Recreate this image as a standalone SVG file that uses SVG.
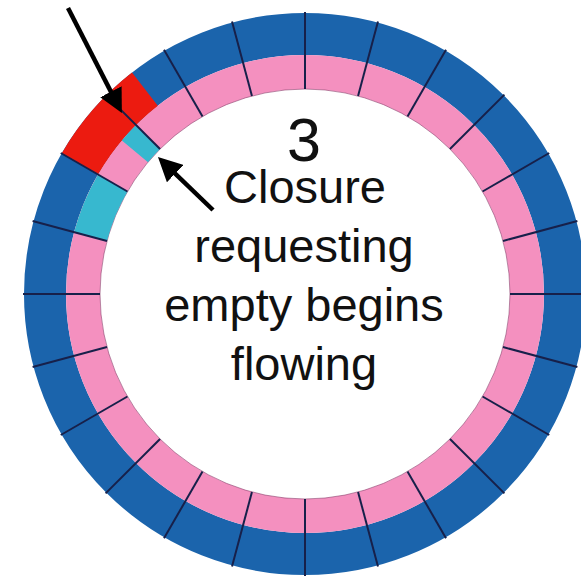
<svg xmlns="http://www.w3.org/2000/svg" width="581" height="578" viewBox="0 0 581 578">
  <defs>
    <style>
      .lbl { font-family: "Liberation Sans", Arial, Helvetica, sans-serif; fill: #111; text-anchor: middle; }
      .tick { stroke: #17204a; stroke-width: 2; }
      .arrow { stroke: #000; stroke-width: 4.5; fill: none; marker-end: url(#head); }
    </style>
    <marker id="head" markerUnits="userSpaceOnUse" viewBox="0 0 24 24" markerWidth="24" markerHeight="24" refX="12" refY="12" orient="auto">
      <path d="M0,0 L24,12 L0,24 Z" fill="#000"/>
    </marker>
    <line id="spoke" class="tick" x1="205" y1="0" x2="282" y2="0"/>
  </defs>

  <rect width="581" height="578" fill="#fff"/>

  <!-- ring: outer blue band and inner pink band -->
  <g id="ring">
    <circle cx="305" cy="294" r="260" fill="none" stroke="#1b64ac" stroke-width="42"/>
    <circle cx="305" cy="294" r="222" fill="none" stroke="#f490bf" stroke-width="34"/>
    <circle cx="305" cy="294" r="205" fill="none" stroke="#8a3f6c" stroke-width="1" opacity="0.6"/>
  </g>

  <!-- highlighted cells -->
  <g id="cell-red">
    <path d="M132.0,72.6 A281,281 0 0 0 61.7,153.5 L98.0,174.5 A239,239 0 0 1 157.8,105.7 Z" fill="#ec1b10"/>
  </g>
  <g id="cell-cyan-small">
    <path d="M136.0,125.0 A239,239 0 0 0 121.9,140.4 L148.0,162.2 A205,205 0 0 1 160.0,149.0 Z" fill="#37b8cf"/>
  </g>
  <g id="cell-cyan">
    <path d="M98.0,174.5 A239,239 0 0 0 74.1,232.1 L107.0,240.9 A205,205 0 0 1 127.5,191.5 Z" fill="#37b8cf"/>
  </g>

  <!-- cell dividers every 15 degrees -->
  <g id="dividers" transform="translate(305 294)">
    <use href="#spoke" transform="rotate(0)"/>
    <use href="#spoke" transform="rotate(15)"/>
    <use href="#spoke" transform="rotate(30)"/>
    <use href="#spoke" transform="rotate(45)"/>
    <use href="#spoke" transform="rotate(60)"/>
    <use href="#spoke" transform="rotate(75)"/>
    <use href="#spoke" transform="rotate(90)"/>
    <use href="#spoke" transform="rotate(105)"/>
    <use href="#spoke" transform="rotate(120)"/>
    <use href="#spoke" transform="rotate(135)"/>
    <use href="#spoke" transform="rotate(150)"/>
    <use href="#spoke" transform="rotate(165)"/>
    <use href="#spoke" transform="rotate(180)"/>
    <use href="#spoke" transform="rotate(195)"/>
    <use href="#spoke" transform="rotate(210)"/>
    <use href="#spoke" transform="rotate(225)"/>
    <use href="#spoke" transform="rotate(240)"/>
    <use href="#spoke" transform="rotate(255)"/>
    <use href="#spoke" transform="rotate(270)"/>
    <use href="#spoke" transform="rotate(285)"/>
    <use href="#spoke" transform="rotate(300)"/>
    <use href="#spoke" transform="rotate(315)"/>
    <use href="#spoke" transform="rotate(330)"/>
    <use href="#spoke" transform="rotate(345)"/>
  </g>

  <!-- pointer arrows -->
  <g id="connectors">
    <line class="arrow" x1="68" y1="8" x2="116.4" y2="102.4"/>
    <line class="arrow" x1="213" y1="210" x2="166.6" y2="165.3"/>
  </g>

  <!-- captions -->
  <g id="label">
    <text class="lbl" x="304" y="161" font-size="61">3</text>
    <text class="lbl" x="305" y="203" font-size="47">Closure</text>
    <text class="lbl" x="304" y="262" font-size="47">requesting</text>
    <text class="lbl" x="304" y="321" font-size="47">empty begins</text>
    <text class="lbl" x="304" y="380" font-size="47">flowing</text>
  </g>
</svg>
